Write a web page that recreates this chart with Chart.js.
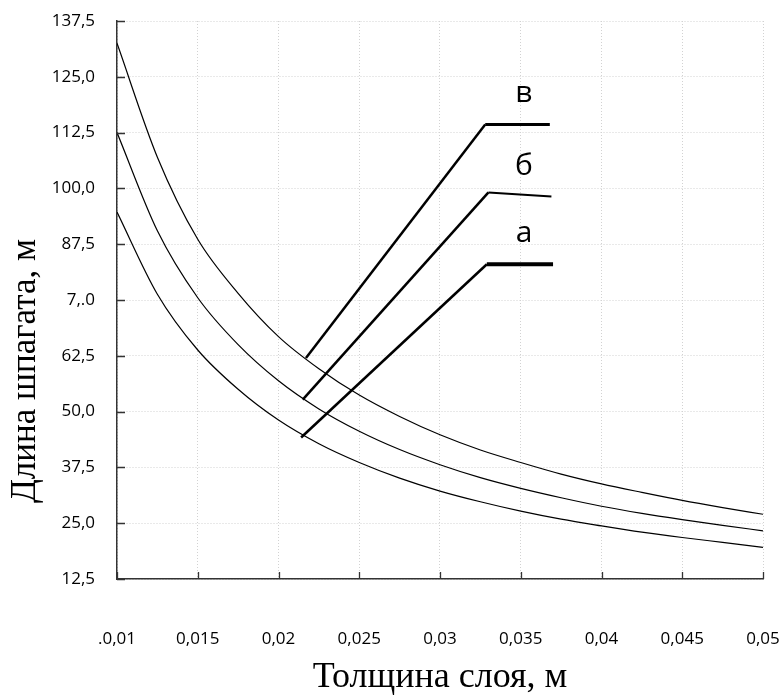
<!DOCTYPE html>
<html>
<head>
<meta charset="utf-8">
<script src="https://cdn.jsdelivr.net/npm/chart.js@4.4.0/dist/chart.umd.min.js"></script>
<style>
  html, body { margin: 0; padding: 0; background: #fff; }
  #wrap { width: 780px; height: 699px; position: relative; }
</style>
</head>
<body>
<div id="wrap"><canvas id="chart"></canvas></div>
<script>
// толщина слоя, м
const thickness = [0.01, 0.0125, 0.015, 0.0175, 0.02, 0.0225, 0.025, 0.0275, 0.03,
                   0.0325, 0.035, 0.0375, 0.04, 0.0425, 0.045, 0.0475, 0.05];
// длина шпагата, м
const lengthA = [94.7, 76.3, 63.8, 55.0, 48.1, 42.8, 38.6, 35.1, 32.2,
                 29.8, 27.7, 25.9, 24.4, 23.0, 21.8, 20.7, 19.6];
const lengthB = [112.5, 90.5, 75.5, 65.0, 56.9, 50.6, 45.6, 41.5, 38.1,
                 35.2, 32.8, 30.7, 28.8, 27.2, 25.8, 24.5, 23.3];
const lengthV = [132.5, 107.0, 88.6, 76.5, 66.8, 59.6, 53.7, 48.9, 44.8,
                 41.4, 38.6, 36.0, 33.8, 31.9, 30.1, 28.5, 27.0];
const seriesNames = ["а", "б", "в"];

const xTickLabels = [".0,01", "0,015", "0,02", "0,025", "0,03", "0,035", "0,04", "0,045", "0,05"];
const yTickLabels = ["12,5", "25,0", "37,5", "50,0", "62,5", "7,.0", "87,5", "100,0", "112,5", "125,0", "137,5"];

// выноски (в координатах данных): точка на кривой, излом, конец полки, подпись
const leaders = [
  { text: "в", from: [0.0217, 62.0], knee: [0.0328, 114.3], end: [0.0368, 114.3], label: [0.0352, 119.4], lw: 2.5, shelf: 3 },
  { text: "б", from: [0.0215, 52.7], knee: [0.0330, 99.1], end: [0.0369, 98.2], label: [0.0352, 103.1], lw: 2.5, shelf: 2 },
  { text: "а", from: [0.0214, 44.2], knee: [0.0329, 83.0], end: [0.0370, 83.0], label: [0.0352, 87.9], lw: 2.5, shelf: 4 }
];

const tickFont = { family: "Open Sans", size: 17 };

const innerTicks = {
  id: "innerTicks",
  afterDraw(chart) {
    const { ctx, scales: { x, y }, chartArea } = chart;
    ctx.save();
    ctx.strokeStyle = "#333";
    ctx.lineWidth = 1.3;
    ctx.beginPath();
    x.ticks.forEach(t => {
      const px = Math.round(x.getPixelForValue(t.value)) + 0.5;
      ctx.moveTo(px, chartArea.bottom);
      ctx.lineTo(px, chartArea.bottom - 7);
    });
    y.ticks.forEach(t => {
      const py = Math.round(y.getPixelForValue(t.value)) + 0.5;
      ctx.moveTo(chartArea.left, py);
      ctx.lineTo(chartArea.left + 8, py);
    });
    ctx.stroke();
    ctx.restore();
  }
};

const leaderLines = {
  id: "leaderLines",
  afterDatasetsDraw(chart) {
    const { ctx, scales: { x, y } } = chart;
    const P = p => [x.getPixelForValue(p[0]), y.getPixelForValue(p[1])];
    ctx.save();
    ctx.strokeStyle = "#000";
    ctx.lineCap = "butt";
    leaders.forEach(l => {
      const a = P(l.from), k = P(l.knee), e = P(l.end);
      ctx.lineWidth = l.lw;
      ctx.beginPath();
      ctx.moveTo(a[0], a[1]);
      ctx.lineTo(k[0], k[1]);
      ctx.stroke();
      ctx.lineWidth = l.shelf;
      ctx.beginPath();
      ctx.moveTo(k[0], k[1]);
      ctx.lineTo(e[0], e[1]);
      ctx.stroke();
      const t = P(l.label);
      ctx.fillStyle = "#000";
      ctx.font = '30px "Open Sans"';
      ctx.textAlign = "center";
      ctx.textBaseline = "alphabetic";
      ctx.fillText(l.text, t[0], t[1]);
    });
    ctx.restore();
  }
};

const yTitle = {
  id: "yTitle",
  afterDraw(chart) {
    const ctx = chart.ctx;
    ctx.save();
    ctx.translate(26, 371);
    ctx.rotate(-Math.PI / 2);
    ctx.font = '35px "Liberation Serif"';
    ctx.fillStyle = "#000";
    ctx.textAlign = "center";
    ctx.textBaseline = "middle";
    ctx.fillText("Длина шпагата, м", 0, 0);
    ctx.restore();
  }
};

const curves = [lengthA, lengthB, lengthV];

new Chart(document.getElementById("chart"), {
  type: "line",
  data: {
    datasets: curves.map((vals, i) => ({
      label: seriesNames[i],
      data: thickness.map((t, j) => ({ x: t, y: vals[j] })),
      borderColor: "#000",
      borderWidth: 1.2,
      pointRadius: 0,
      fill: false,
      cubicInterpolationMode: "monotone"
    }))
  },
  options: {
    responsive: true,
    maintainAspectRatio: false,
    animation: false,
    layout: { padding: { top: 21, right: 17, left: 0, bottom: 0 } },
    plugins: {
      legend: { display: false },
      tooltip: { enabled: false }
    },
    scales: {
      x: {
        type: "linear",
        min: 0.01,
        max: 0.05,
        ticks: {
          stepSize: 0.005,
          padding: 50,
          color: "#000",
          font: tickFont,
          maxRotation: 0,
          callback: v => xTickLabels[Math.round((v - 0.01) / 0.005)]
        },
        grid: { color: "#d2d2d2", lineWidth: 1, drawTicks: false },
        border: { color: "#333", width: 1.5, dash: [1, 2] },
        title: {
          display: true,
          text: "Толщина слоя, м",
          color: "#000",
          font: { family: "Liberation Serif", size: 36 },
          padding: { top: 0, bottom: 0 }
        },
        afterFit: s => { s.height = 120; s.paddingLeft = 0; s.paddingRight = 0; }
      },
      y: {
        min: 12.5,
        max: 137.5,
        ticks: {
          stepSize: 12.5,
          padding: 22,
          color: "#000",
          font: tickFont,
          callback: v => yTickLabels[Math.round((v - 12.5) / 12.5)]
        },
        grid: { color: "#d2d2d2", lineWidth: 1, drawTicks: false },
        border: { color: "#333", width: 1.5, dash: [1, 2] },
        afterFit: s => { s.width = 117; s.paddingTop = 0; s.paddingBottom = 0; }
      }
    }
  },
  plugins: [innerTicks, leaderLines, yTitle]
});
</script>
</body>
</html>
